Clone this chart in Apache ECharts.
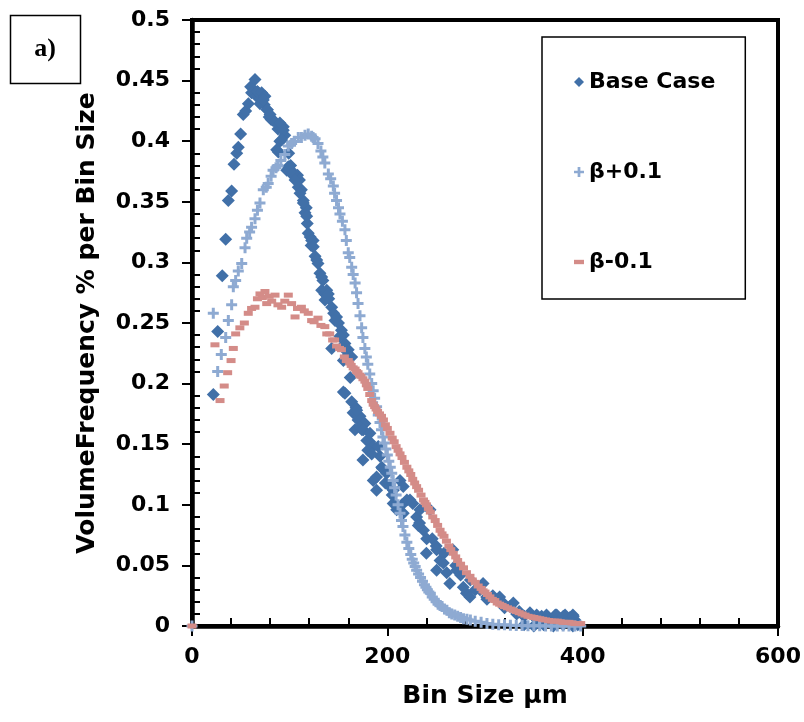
<!DOCTYPE html>
<html>
<head>
<meta charset="utf-8">
<script src="https://cdn.jsdelivr.net/npm/echarts@6/dist/echarts.min.js"></script>
<style>
  html, body { margin: 0; padding: 0; background: #fff; }
  #chart { width: 804px; height: 722px; }
</style>
</head>
<body>
<div id="chart"></div>
<script>
// values
const seriesNames = ['Base Case', 'β+0.1', 'β-0.1'];

const baseX = [
  21.8, 26.3, 31, 34.5, 37.2, 40.6, 43, 45.8, 47.4, 49.8,
  52.5, 55, 57.7, 60, 61, 64.5, 66, 68, 70, 72,
  74, 77, 79, 81, 83, 86.7, 88, 90, 91, 93.5,
  95, 97, 99, 101, 104, 106, 108, 110, 112, 114,
  115.7, 117, 118, 121, 122, 124, 126, 129, 131, 132.8,
  134, 136, 138, 140, 143, 145, 148, 150, 153, 155,
  156.6, 143, 158, 160, 155, 162, 155, 156.6, 163.5, 165,
  168, 170, 172, 174, 177, 179, 175, 182, 185.6, 180,
  189, 192.5, 189, 195, 198, 202.7, 205, 209.6, 213, 215,
  220, 226, 230, 233, 237, 240, 243.7, 246, 250, 254,
  258, 260.8, 264, 267, 270, 275, 281, 285, 290, 298,
  302, 308, 315, 320, 329, 335, 340, 346, 352, 358,
  363, 368, 372, 377, 382, 387, 390, 392, 340, 350,
  360, 370, 380, 390, 395,
  66.9, 71.3, 74.7, 69.6, 73, 77.1, 79.9, 85, 90, 93.5,
  91.8, 88.4, 98.6, 102, 105.5, 108.8, 110.6, 114, 117.4, 119,
  122.5, 124.2, 127.7, 132.8, 139.6, 136.2, 146.4, 151.5, 156.6, 163.5,
  170.3, 166.9, 172, 168.6, 175.4, 182.2, 184, 190.7, 194.2, 185.6,
  199.3, 206.1, 216.3, 206, 216.3, 223.2, 233.4, 231.7, 240.3, 250.5,
  257.3, 250.5, 271, 277.8, 284.6, 294.9, 301.7, 318.7, 325.6, 332.4,
  352.9, 373.4, 380.2, 390.4
];
const baseY = [
  0.191, 0.243, 0.289, 0.319, 0.351, 0.359, 0.381, 0.390, 0.395, 0.406,
  0.422, 0.425, 0.431, 0.445, 0.440, 0.451, 0.437, 0.440, 0.435, 0.438,
  0.430, 0.426, 0.420, 0.418, 0.417, 0.393, 0.410, 0.400, 0.411, 0.412,
  0.405, 0.376, 0.390, 0.380, 0.374, 0.370, 0.372, 0.368, 0.360, 0.351,
  0.341, 0.345, 0.332, 0.321, 0.314, 0.318, 0.305, 0.299, 0.291, 0.277,
  0.285, 0.274, 0.277, 0.270, 0.263, 0.258, 0.255, 0.250, 0.244, 0.240,
  0.233, 0.229, 0.222, 0.228, 0.219, 0.205, 0.193, 0.192, 0.185, 0.176,
  0.180, 0.170, 0.173, 0.162, 0.167, 0.153, 0.137, 0.152, 0.148, 0.145,
  0.123, 0.140, 0.112, 0.130, 0.118, 0.115, 0.108, 0.096, 0.120, 0.100,
  0.104, 0.101, 0.090, 0.085, 0.079, 0.060, 0.096, 0.072, 0.066, 0.054,
  0.060, 0.044, 0.035, 0.063, 0.050, 0.042, 0.027, 0.038, 0.030, 0.035,
  0.022, 0.025, 0.024, 0.015, 0.019, 0.012, 0.008, 0.011, 0.006, 0.008,
  0.009, 0.005, 0.009, 0.006, 0.009, 0.007, 0.009, 0.005, 0.001, 0.000,
  0.001, 0.000, 0.001, 0.000, 0.001,
  0.441, 0.440, 0.437, 0.431, 0.434, 0.426, 0.422, 0.416, 0.415, 0.409,
  0.401, 0.391, 0.379, 0.373, 0.368, 0.362, 0.357, 0.349, 0.338, 0.324,
  0.318, 0.313, 0.302, 0.288, 0.274, 0.269, 0.252, 0.239, 0.228, 0.222,
  0.173, 0.162, 0.164, 0.178, 0.162, 0.159, 0.142, 0.148, 0.131, 0.120,
  0.126, 0.112, 0.115, 0.101, 0.093, 0.104, 0.096, 0.083, 0.072, 0.063,
  0.052, 0.046, 0.046, 0.032, 0.024, 0.030, 0.024, 0.019, 0.016, 0.010,
  0.009, 0.009, 0.008, 0.008
];

const plusX = [
  0, 21.8, 26.3, 30, 34.5, 37.2, 40.6, 42.3, 44.7, 47.4,
  50.9, 54.3, 56, 59, 61, 64.5, 67, 69.6, 73, 76,
  78, 81, 83, 86, 88, 91, 95, 98.6, 102, 105,
  108.8, 112, 115.7, 119, 122.5, 126, 129, 132, 136, 139.6,
  142, 144.7, 148, 151.5, 154, 156.6, 160, 163.5, 167, 170,
  173.7, 177, 180, 184, 187, 190.7, 194, 197, 200, 203,
  206, 209, 213, 216, 220, 224, 227, 230, 234, 238,
  241, 244, 248, 252, 256, 261, 266, 272, 278, 285,
  290, 296, 302, 308, 314, 320, 326, 332, 338, 344,
  350, 356, 362, 368, 374, 380, 386, 392, 398,
  124, 134, 146, 150, 158, 161.5, 165, 168.5, 172, 175,
  178.5, 182, 185.5, 189, 192.5, 195.5, 198.5, 201.5, 204.5, 207.5,
  211, 214.5, 218, 222, 225.5, 228.5, 232, 236, 239.5, 242.5,
  246, 250, 254, 258.5, 263.5, 269, 275, 281.5
];
const plusY = [
  0, 0.258, 0.210, 0.224, 0.238, 0.252, 0.265, 0.280, 0.285, 0.293,
  0.299, 0.312, 0.320, 0.325, 0.329, 0.336, 0.343, 0.349, 0.360, 0.362,
  0.365, 0.371, 0.376, 0.378, 0.380, 0.384, 0.389, 0.396, 0.398, 0.400,
  0.403, 0.403, 0.405, 0.406, 0.404, 0.402, 0.398, 0.392, 0.382, 0.373,
  0.369, 0.363, 0.351, 0.340, 0.334, 0.327, 0.308, 0.296, 0.283, 0.266,
  0.246, 0.229, 0.216, 0.200, 0.188, 0.174, 0.162, 0.151, 0.141, 0.131,
  0.120, 0.108, 0.093, 0.082, 0.069, 0.059, 0.052, 0.046, 0.040, 0.034,
  0.030, 0.027, 0.022, 0.018, 0.016, 0.013, 0.010, 0.008, 0.006, 0.005,
  0.004, 0.003, 0.002, 0.0015, 0.001, 0.001, 0.0007, 0.0005, 0.0004, 0.0003,
  0.0002, 0.0002, 0.0001, 0.0001, 0, 0, 0, 0, 0,
  0.403, 0.387, 0.357, 0.345, 0.318, 0.304, 0.290, 0.275, 0.256, 0.238,
  0.222, 0.208, 0.194, 0.181, 0.168, 0.156, 0.146, 0.136, 0.126, 0.114,
  0.100, 0.087, 0.075, 0.064, 0.055, 0.049, 0.043, 0.037, 0.032, 0.028,
  0.024, 0.020, 0.017, 0.014, 0.011, 0.009, 0.007, 0.0055
];

const minusX = [
  0, 23.5, 28.7, 33, 36.5, 40, 42.3, 44.7, 49, 53.6,
  57.6, 61, 64.5, 67, 69.6, 72, 74.7, 76.5, 79, 81.6,
  85, 88, 91.8, 95, 98.6, 102, 105.5, 108, 112, 115,
  119, 122.5, 125, 129, 132, 136, 138, 141, 144, 146,
  148, 151, 153, 156, 158, 160, 163, 167, 170, 173,
  177, 180, 184, 187, 190, 194, 198, 202.7, 207, 211,
  215, 220, 224, 228, 232, 237, 240, 244, 249, 254,
  258, 263, 267.5, 272, 278, 284.6, 290, 296, 300, 305,
  310, 315, 320, 326, 332, 338, 344, 350, 356, 362,
  368, 374, 380, 386, 392, 398,
  161.5, 165, 168.5, 171.5, 175, 178.5, 182, 185.5, 188.5, 192,
  196, 200, 205, 209, 213, 217.5, 222, 226, 230, 234.5,
  238.5, 242, 246.5, 251.5, 256, 260.5, 265, 270, 275, 281,
  287, 293, 298, 302.5, 307.5, 312.5, 317.5, 323, 329, 335,
  341, 347, 353, 359, 365, 371, 377, 383, 389, 395
];
const minusY = [
  0, 0.232, 0.186, 0.198, 0.209, 0.219, 0.229, 0.241, 0.246, 0.250,
  0.258, 0.262, 0.263, 0.270, 0.274, 0.271, 0.276, 0.266, 0.272, 0.268,
  0.273, 0.265, 0.263, 0.268, 0.273, 0.266, 0.255, 0.262, 0.263, 0.260,
  0.258, 0.252, 0.251, 0.254, 0.248, 0.247, 0.241, 0.241, 0.236, 0.236,
  0.231, 0.229, 0.228, 0.222, 0.219, 0.219, 0.215, 0.212, 0.209, 0.206,
  0.202, 0.196, 0.186, 0.181, 0.177, 0.173, 0.166, 0.159, 0.152, 0.145,
  0.139, 0.131, 0.125, 0.118, 0.112, 0.104, 0.100, 0.094, 0.087, 0.079,
  0.074, 0.066, 0.060, 0.054, 0.048, 0.041, 0.036, 0.031, 0.028, 0.024,
  0.021, 0.018, 0.016, 0.014, 0.012, 0.010, 0.008, 0.007, 0.006, 0.005,
  0.004, 0.004, 0.003, 0.003, 0.002, 0.002,
  0.217, 0.213, 0.210, 0.207, 0.204, 0.199, 0.191, 0.183, 0.179, 0.175,
  0.170, 0.163, 0.155, 0.148, 0.142, 0.135, 0.128, 0.121, 0.115, 0.108,
  0.102, 0.097, 0.090, 0.083, 0.076, 0.070, 0.063, 0.057, 0.051, 0.044,
  0.038, 0.033, 0.029, 0.026, 0.022, 0.019, 0.017, 0.015, 0.013, 0.011,
  0.009, 0.0075, 0.0065, 0.0055, 0.0045, 0.004, 0.0035, 0.003, 0.0025, 0.002
];

const FONT = '"DejaVu Sans", sans-serif';
const PLUS = 'path://M4,0h3v4h4v3h-4v4h-3v-4h-4v-3h4z';
const DASH = 'path://M0,0h8v3.5h-8z';

const pairs = (xs, ys) => xs.map((x, i) => [x, ys[i]]);

const chart = echarts.init(document.getElementById('chart'));

const xScale = { type: 'value', min: 0, max: 600, interval: 200 };
const yScale = { type: 'value', min: 0, max: 0.5, interval: 0.05 };
const titleStyle = { fontFamily: FONT, fontWeight: 'bold', fontSize: 25, color: '#000' };
const labelStyle = { fontFamily: FONT, fontWeight: 'bold', fontSize: 22, color: '#000' };

chart.setOption({
  backgroundColor: '#fff',
  animation: false,
  grid: {
    left: 192, right: 26, top: 20, bottom: 96,
    show: true, borderColor: '#000', borderWidth: 4
  },
  xAxis: [
    {
      ...xScale,
      name: 'Bin Size µm',
      nameLocation: 'middle',
      nameGap: 58,
      nameTextStyle: titleStyle,
      axisLine: { lineStyle: { color: '#000', width: 4.5 } },
      // major ticks point outward
      axisTick: { show: true, inside: false, length: 10, lineStyle: { color: '#000', width: 2 } },
      axisLabel: { margin: 20, ...labelStyle },
      splitLine: { show: false }
    },
    {
      // overlay axis only for the inward minor ticks
      ...xScale,
      position: 'bottom',
      axisLine: { show: false },
      axisLabel: { show: false },
      axisTick: { show: true, inside: true, length: 0.1, lineStyle: { color: '#000', width: 2 } },
      minorTick: { show: true, splitNumber: 5, length: 8, lineStyle: { color: '#000', width: 2 } },
      splitLine: { show: false }
    }
  ],
  yAxis: [
    {
      ...yScale,
      name: 'VolumeFrequency % per Bin Size',
      nameLocation: 'middle',
      nameGap: 92,
      nameTextStyle: titleStyle,
      axisLine: { lineStyle: { color: '#000', width: 4.5 } },
      axisTick: { show: true, inside: false, length: 10, lineStyle: { color: '#000', width: 2 } },
      axisLabel: { margin: 22, ...labelStyle },
      splitLine: { show: false }
    },
    {
      ...yScale,
      position: 'left',
      axisLine: { show: false },
      axisLabel: { show: false },
      axisTick: { show: true, inside: true, length: 0.1, lineStyle: { color: '#000', width: 2 } },
      minorTick: { show: true, splitNumber: 5, length: 8, lineStyle: { color: '#000', width: 2 } },
      splitLine: { show: false }
    }
  ],
  legend: {
    orient: 'vertical',
    left: 542, top: 37,
    backgroundColor: '#fff',
    borderColor: '#000', borderWidth: 1.5,
    padding: [34, 30, 26, 32],
    itemGap: 68,
    itemWidth: 10, itemHeight: 10,
    textStyle: labelStyle,
    data: [
      { name: seriesNames[0], icon: 'diamond' },
      { name: seriesNames[1], icon: PLUS },
      { name: seriesNames[2], icon: DASH }
    ]
  },
  graphic: [
    {
      type: 'rect',
      shape: { x: 10.5, y: 15.5, width: 70, height: 68 },
      style: { fill: '#fff', stroke: '#000', lineWidth: 1.5 }
    },
    {
      type: 'text',
      x: 45, y: 49,
      style: {
        text: 'a)', fill: '#000',
        font: 'bold 26px "Liberation Serif", serif',
        textAlign: 'center', textVerticalAlign: 'middle'
      }
    }
  ],
  series: [
    {
      name: seriesNames[0],
      type: 'scatter',
      symbol: 'diamond',
      symbolSize: 13,
      itemStyle: { color: '#4170a8', opacity: 1 },
      data: pairs(baseX, baseY)
    },
    {
      name: seriesNames[1],
      type: 'scatter',
      symbol: PLUS,
      symbolSize: 11,
      itemStyle: { color: '#8eaad2', opacity: 1 },
      data: pairs(plusX, plusY)
    },
    {
      name: seriesNames[2],
      type: 'scatter',
      symbol: DASH,
      symbolSize: [9, 5],
      itemStyle: { color: '#d48c88', opacity: 1 },
      data: pairs(minusX, minusY)
    }
  ]
});
</script>
</body>
</html>
